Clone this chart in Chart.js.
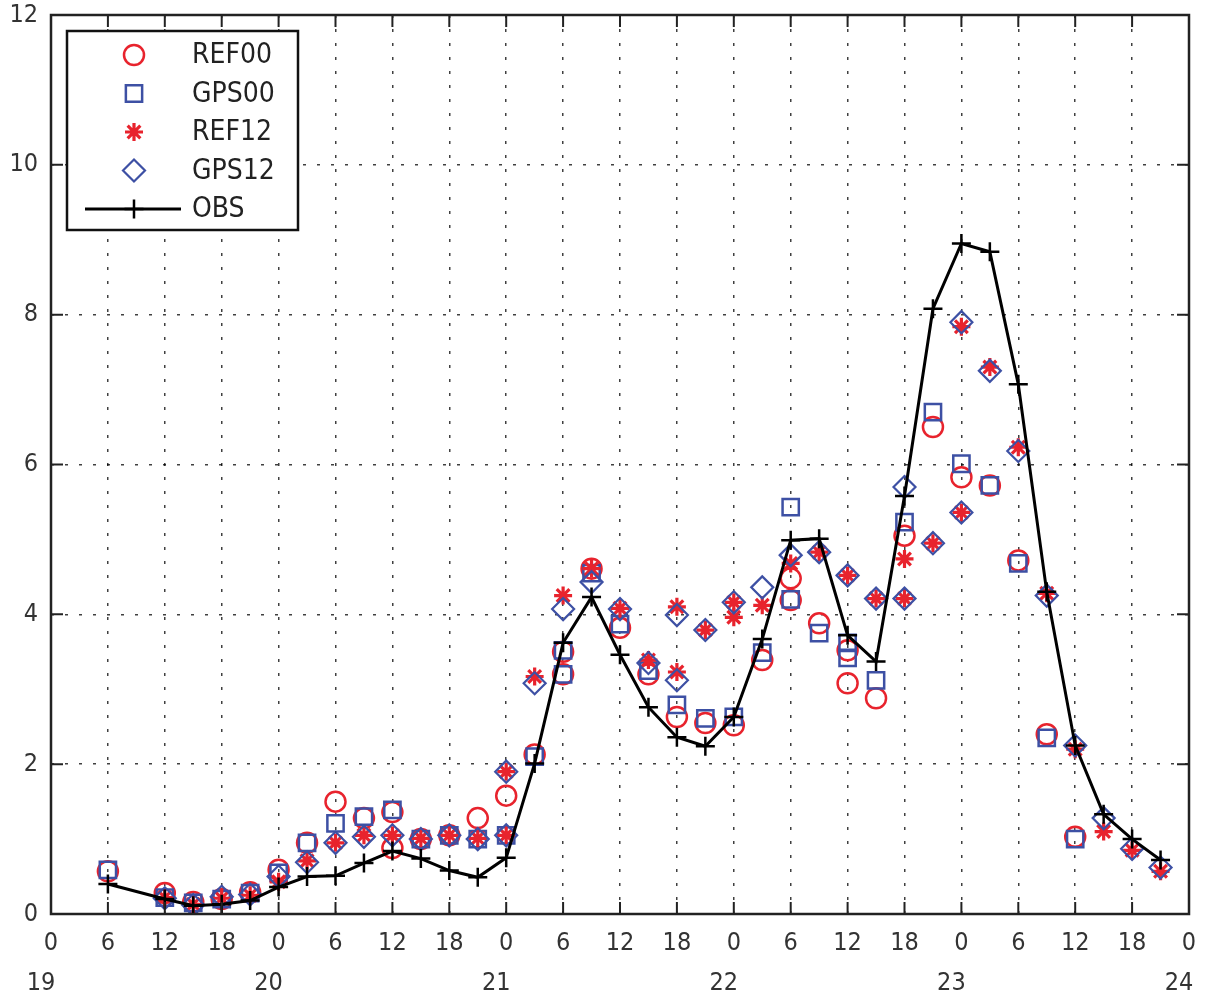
<!DOCTYPE html>
<html>
<head>
<meta charset="utf-8">
<script src="https://cdn.jsdelivr.net/npm/chart.js@4.4.1/dist/chart.umd.min.js"></script>
<style>
  html, body { margin: 0; padding: 0; background: #fff; }
</style>
</head>
<body>
<canvas id="RainChart" width="1206" height="998"></canvas>
<script>
// hours counted from day 19, 00 UTC
const ref00Hours  = [6,12,15,18,21,24,27,30,33,36,36,39,42,45,48,51,54,54,57,60,63,66,69,72,75,78,78,81,84,84,87,90,93,96,99,102,105,108];
const ref00Values = [0.57,0.28,0.16,0.2,0.29,0.59,0.95,1.5,1.28,1.36,0.88,1.0,1.05,1.28,1.58,2.13,3.5,3.2,4.61,3.82,3.2,2.63,2.55,2.52,3.39,4.48,4.19,3.88,3.52,3.08,2.88,5.05,6.5,5.83,5.72,4.72,2.4,1.03];

const gps00Hours  = [6,12,15,18,21,24,27,30,33,36,39,42,45,48,51,54,54,57,60,63,66,69,72,75,78,78,81,84,84,87,90,93,96,99,102,105,108];
const gps00Values = [0.59,0.22,0.15,0.2,0.28,0.55,0.95,1.21,1.3,1.39,1.0,1.05,1.0,1.05,2.1,3.52,3.2,4.55,3.87,3.25,2.79,2.61,2.63,3.49,5.43,4.2,3.75,3.62,3.42,3.12,5.23,6.7,6.01,5.72,4.68,2.35,1.0];

const ref12Hours  = [12,15,18,21,24,27,30,33,36,39,42,45,48,48,51,54,57,60,63,66,66,69,72,72,75,78,81,84,87,90,90,93,96,96,99,102,105,108,111,114,117];
const ref12Values = [0.22,0.13,0.21,0.25,0.43,0.71,0.95,1.05,1.05,1.01,1.05,1.01,1.9,1.05,3.17,4.25,4.61,4.08,3.39,4.1,3.23,3.79,4.16,3.96,4.12,4.68,4.83,4.52,4.21,4.74,4.21,4.95,7.84,5.36,7.3,6.23,4.28,2.2,1.1,0.85,0.57];

const gps12Hours  = [12,15,18,21,24,27,30,33,36,39,42,45,48,48,51,54,57,60,63,66,66,69,72,75,78,81,84,87,90,90,93,96,96,99,102,105,108,111,114,117];
const gps12Values = [0.21,0.12,0.23,0.26,0.5,0.69,0.95,1.03,1.05,1.0,1.05,1.0,1.9,1.05,3.08,4.07,4.43,4.07,3.35,3.99,3.12,3.79,4.16,4.36,4.79,4.83,4.52,4.21,5.7,4.21,4.95,7.9,5.36,7.25,6.18,4.25,2.25,1.28,0.87,0.62];

const obsHours  = [6,12,15,18,21,24,27,30,33,36,39,42,45,48,51,54,57,60,63,66,69,72,75,78,81,84,87,90,93,96,99,102,105,108,111,114,117];
const obsValues = [0.4,0.2,0.11,0.13,0.18,0.36,0.5,0.51,0.68,0.84,0.74,0.58,0.49,0.75,2.01,3.62,4.23,3.46,2.76,2.36,2.24,2.63,3.67,4.99,5.01,3.72,3.37,5.58,8.08,8.95,8.84,7.07,4.3,2.25,1.33,1.0,0.72];

const hourLabels = ['0', '6', '12', '18'];
const dayLabels = ['19', '20', '21', '22', '23', '24'];

const RED = '#e8232d';
const BLUE = '#3d50a4';
const FONT = "'Liberation Sans Narrow', 'DejaVu Sans Condensed', 'Liberation Sans', sans-serif";

const pts = (hs, vs) => hs.map((h, i) => ({ x: h, y: vs[i] }));

const datasets = [
    { label: 'REF00', data: pts(ref00Hours, ref00Values), pointStyle: 'circle', pointRadius: 10,
      borderColor: RED, backgroundColor: 'rgba(0,0,0,0)', pointBorderWidth: 2.5, showLine: false, order: 4 },
    { label: 'GPS00', data: pts(gps00Hours, gps00Values), pointStyle: 'rect', pointRadius: 11.5,
      borderColor: BLUE, backgroundColor: 'rgba(0,0,0,0)', pointBorderWidth: 2.5, showLine: false, order: 3 },
    { label: 'REF12', data: pts(ref12Hours, ref12Values), pointStyle: 'star', pointRadius: 9,
      borderColor: RED, backgroundColor: RED, pointBorderWidth: 3.2, showLine: false, order: 2 },
    { label: 'GPS12', data: pts(gps12Hours, gps12Values), pointStyle: 'rectRot', pointRadius: 11,
      borderColor: BLUE, backgroundColor: 'rgba(0,0,0,0)', pointBorderWidth: 2.2, showLine: false, order: 1 },
    { label: 'OBS', data: pts(obsHours, obsValues), pointStyle: 'cross', pointRadius: 9.5,
      borderColor: '#000', backgroundColor: '#000', pointBorderWidth: 2.5, borderWidth: 3,
      showLine: true, tension: 0, order: 0 }
];

// no label overflow padding, the plot box is set by layout padding
const noOverflow = s => { s.paddingTop = 0; s.paddingBottom = 0; s.paddingLeft = 0; s.paddingRight = 0; };

// box with inward ticks, like a matlab axes
const boxPlugin = {
    id: 'box',
    afterDatasetsDraw(chart) {
        const { ctx, chartArea: a, scales } = chart;
        ctx.save();
        ctx.strokeStyle = '#222';
        ctx.lineWidth = 2.5;
        ctx.strokeRect(a.left, a.top, a.right - a.left, a.bottom - a.top);
        ctx.lineWidth = 2;
        const tl = 12;
        ctx.beginPath();
        scales.x.ticks.forEach(t => {
            const px = scales.x.getPixelForValue(t.value);
            ctx.moveTo(px, a.bottom); ctx.lineTo(px, a.bottom - tl);
            ctx.moveTo(px, a.top); ctx.lineTo(px, a.top + tl);
        });
        scales.y.ticks.forEach(t => {
            const py = scales.y.getPixelForValue(t.value);
            ctx.moveTo(a.left, py); ctx.lineTo(a.left + tl, py);
            ctx.moveTo(a.right, py); ctx.lineTo(a.right - tl, py);
        });
        ctx.stroke();
        ctx.restore();
    }
};

const legendPlugin = {
    id: 'boxLegend',
    afterDraw(chart) {
        const { ctx, chartArea: a } = chart;
        const left = a.left + 16, top = a.top + 16, w = 231, h = 199;
        ctx.save();
        ctx.fillStyle = '#fff';
        ctx.fillRect(left, top, w, h);
        ctx.strokeStyle = '#111';
        ctx.lineWidth = 2.5;
        ctx.strokeRect(left, top, w, h);
        ctx.font = '28px ' + FONT;
        ctx.textBaseline = 'middle';
        const mx = left + 67;
        chart.data.datasets.forEach((ds, i) => {
            const y = top + 24 + i * 38.5;
            ctx.strokeStyle = ds.borderColor;
            ctx.fillStyle = ds.backgroundColor;
            ctx.lineWidth = ds.pointBorderWidth;
            if (ds.showLine) {
                ctx.save();
                ctx.lineWidth = ds.borderWidth;
                ctx.beginPath();
                ctx.moveTo(left + 18, y); ctx.lineTo(left + 114, y);
                ctx.stroke();
                ctx.restore();
            }
            if (Chart.helpers && Chart.helpers.drawPoint) {
                Chart.helpers.drawPoint(ctx, { pointStyle: ds.pointStyle, radius: ds.pointRadius,
                    rotation: 0, borderWidth: ds.pointBorderWidth }, mx, y);
            }
            ctx.fillStyle = '#222';
            ctx.fillText(ds.label, left + 125, y + 1);
        });
        ctx.restore();
    }
};

new Chart(document.getElementById('RainChart').getContext('2d'), {
    type: 'scatter',
    data: { datasets: datasets },
    options: {
        responsive: false,
        animation: false,
        devicePixelRatio: 1,
        layout: { padding: { top: 15, right: 17, left: 0, bottom: 0 } },
        plugins: { legend: { display: false }, tooltip: { enabled: false } },
        scales: {
            x: {
                type: 'linear', min: 0, max: 120, weight: 0,
                afterFit: s => { s.height = 46; noOverflow(s); },
                grid: { color: 'rgba(0,0,0,0.75)', lineWidth: 1.5, drawTicks: false },
                border: { display: false, dash: [3, 11] },
                ticks: {
                    stepSize: 6, padding: 14, color: '#333',
                    font: { family: FONT, size: 25 },
                    callback: v => hourLabels[(v % 24) / 6]
                }
            },
            day: {
                type: 'linear', position: 'bottom', axis: 'x', min: 0, max: 120, weight: 1,
                afterFit: s => { s.height = 38; noOverflow(s); },
                grid: { display: false, drawTicks: false },
                border: { display: false },
                ticks: {
                    stepSize: 24, padding: 8, color: '#333', labelOffset: -10,
                    font: { family: FONT, size: 25 },
                    callback: v => dayLabels[v / 24]
                }
            },
            y: {
                type: 'linear', min: 0, max: 12,
                afterFit: s => { s.width = 51; noOverflow(s); },
                grid: { color: 'rgba(0,0,0,0.75)', lineWidth: 1.5, drawTicks: false },
                border: { display: false, dash: [3, 11] },
                ticks: { stepSize: 2, padding: 13, color: '#333', font: { family: FONT, size: 25 } }
            }
        }
    },
    plugins: [boxPlugin, legendPlugin]
});
</script>
</body>
</html>
